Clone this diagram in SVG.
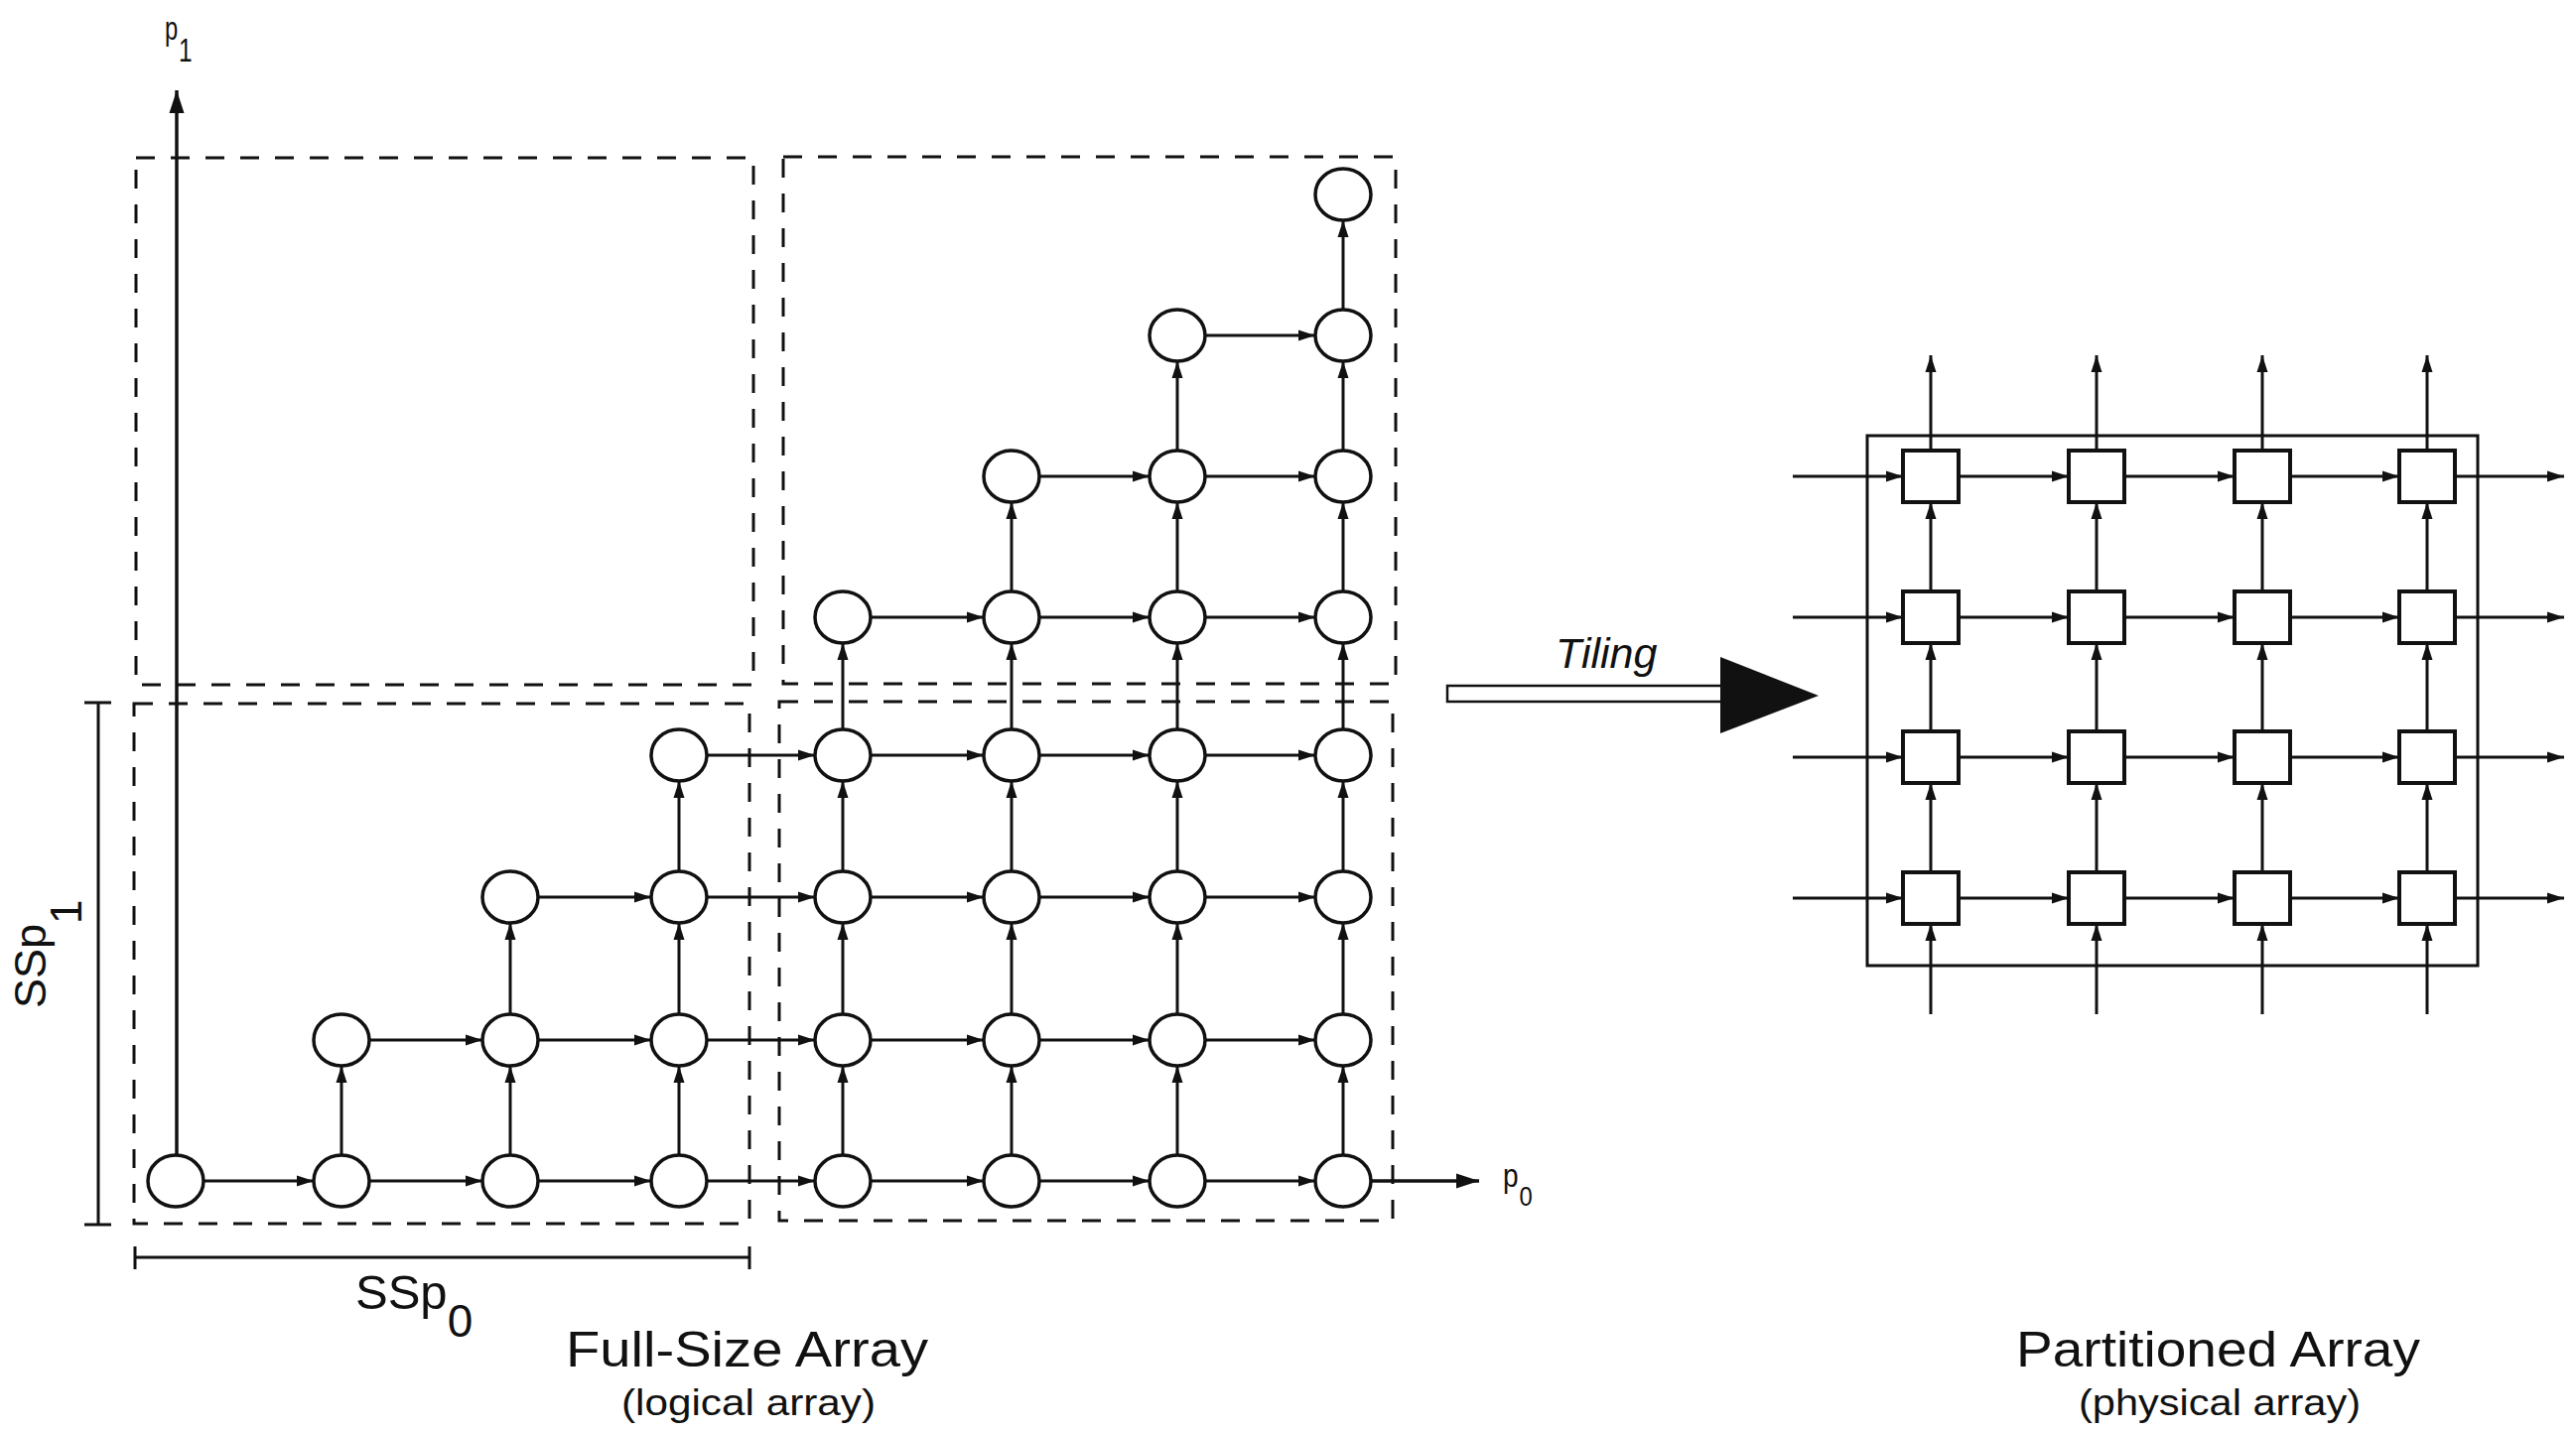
<svg xmlns="http://www.w3.org/2000/svg" width="2595" height="1444" viewBox="0 0 2595 1444">
<style>
.bg{fill:#fff}
.box{fill:none;stroke:#111;stroke-width:3;stroke-dasharray:19 16}
.pe{fill:#fff;stroke:#111;stroke-width:3.5}
.sq{fill:#fff;stroke:#111;stroke-width:4}
.e{stroke:#111;stroke-width:3;fill:none;marker-end:url(#ah)}
.ax{stroke:#111;stroke-width:3.5;fill:none;marker-end:url(#big)}
.br{stroke:#111;stroke-width:3;fill:none}
.t{font-family:"Liberation Sans",Arial,sans-serif;fill:#111}
</style>
<defs>
<marker id="ah" markerUnits="userSpaceOnUse" markerWidth="18" markerHeight="12" refX="17" refY="6" orient="auto"><path d="M0,0.5 L17,6 L0,11.5 z" fill="#111"/></marker>
<marker id="big" markerUnits="userSpaceOnUse" markerWidth="24" markerHeight="16" refX="23" refY="8" orient="auto"><path d="M0,0.5 L23,8 L0,15.5 z" fill="#111"/></marker>
</defs>
<rect class="bg" x="0" y="0" width="2595" height="1444"/>

<g id="tiles">
<rect class="box" x="137" y="159" width="622" height="531"/>
<rect class="box" x="789" y="158" width="617" height="531"/>
<rect class="box" x="135" y="709" width="620" height="524"/>
<rect class="box" x="785" y="707" width="618" height="523"/>
</g>

<g id="brackets">
<line class="br" x1="99" y1="708" x2="99" y2="1234"/>
<line class="br" x1="85" y1="708" x2="112" y2="708"/>
<line class="br" x1="85" y1="1234" x2="112" y2="1234"/>
<line class="br" x1="136" y1="1267" x2="755" y2="1267"/>
<line class="br" x1="136" y1="1256" x2="136" y2="1279"/>
<line class="br" x1="755" y1="1256" x2="755" y2="1279"/>
</g>

<g id="connectors">
<line class="ax" x1="178" y1="1164" x2="178" y2="91"/>
<line class="ax" x1="1381" y1="1190" x2="1490" y2="1190"/>
<line class="e" x1="205" y1="1190" x2="316" y2="1190"/>
<line class="e" x1="372" y1="1190" x2="486" y2="1190"/>
<line class="e" x1="542" y1="1190" x2="656" y2="1190"/>
<line class="e" x1="712" y1="1190" x2="821" y2="1190"/>
<line class="e" x1="877" y1="1190" x2="991" y2="1190"/>
<line class="e" x1="1047" y1="1190" x2="1158" y2="1190"/>
<line class="e" x1="1214" y1="1190" x2="1325" y2="1190"/>
<line class="e" x1="372" y1="1048" x2="486" y2="1048"/>
<line class="e" x1="542" y1="1048" x2="656" y2="1048"/>
<line class="e" x1="712" y1="1048" x2="821" y2="1048"/>
<line class="e" x1="877" y1="1048" x2="991" y2="1048"/>
<line class="e" x1="1047" y1="1048" x2="1158" y2="1048"/>
<line class="e" x1="1214" y1="1048" x2="1325" y2="1048"/>
<line class="e" x1="542" y1="904" x2="656" y2="904"/>
<line class="e" x1="712" y1="904" x2="821" y2="904"/>
<line class="e" x1="877" y1="904" x2="991" y2="904"/>
<line class="e" x1="1047" y1="904" x2="1158" y2="904"/>
<line class="e" x1="1214" y1="904" x2="1325" y2="904"/>
<line class="e" x1="712" y1="761" x2="821" y2="761"/>
<line class="e" x1="877" y1="761" x2="991" y2="761"/>
<line class="e" x1="1047" y1="761" x2="1158" y2="761"/>
<line class="e" x1="1214" y1="761" x2="1325" y2="761"/>
<line class="e" x1="877" y1="622" x2="991" y2="622"/>
<line class="e" x1="1047" y1="622" x2="1158" y2="622"/>
<line class="e" x1="1214" y1="622" x2="1325" y2="622"/>
<line class="e" x1="1047" y1="480" x2="1158" y2="480"/>
<line class="e" x1="1214" y1="480" x2="1325" y2="480"/>
<line class="e" x1="1214" y1="338" x2="1325" y2="338"/>
<line class="e" x1="344" y1="1164" x2="344" y2="1074"/>
<line class="e" x1="514" y1="1164" x2="514" y2="1074"/>
<line class="e" x1="514" y1="1022" x2="514" y2="930"/>
<line class="e" x1="684" y1="1164" x2="684" y2="1074"/>
<line class="e" x1="684" y1="1022" x2="684" y2="930"/>
<line class="e" x1="684" y1="878" x2="684" y2="787"/>
<line class="e" x1="849" y1="1164" x2="849" y2="1074"/>
<line class="e" x1="849" y1="1022" x2="849" y2="930"/>
<line class="e" x1="849" y1="878" x2="849" y2="787"/>
<line class="e" x1="849" y1="735" x2="849" y2="648"/>
<line class="e" x1="1019" y1="1164" x2="1019" y2="1074"/>
<line class="e" x1="1019" y1="1022" x2="1019" y2="930"/>
<line class="e" x1="1019" y1="878" x2="1019" y2="787"/>
<line class="e" x1="1019" y1="735" x2="1019" y2="648"/>
<line class="e" x1="1019" y1="596" x2="1019" y2="506"/>
<line class="e" x1="1186" y1="1164" x2="1186" y2="1074"/>
<line class="e" x1="1186" y1="1022" x2="1186" y2="930"/>
<line class="e" x1="1186" y1="878" x2="1186" y2="787"/>
<line class="e" x1="1186" y1="735" x2="1186" y2="648"/>
<line class="e" x1="1186" y1="596" x2="1186" y2="506"/>
<line class="e" x1="1186" y1="454" x2="1186" y2="364"/>
<line class="e" x1="1353" y1="1164" x2="1353" y2="1074"/>
<line class="e" x1="1353" y1="1022" x2="1353" y2="930"/>
<line class="e" x1="1353" y1="878" x2="1353" y2="787"/>
<line class="e" x1="1353" y1="735" x2="1353" y2="648"/>
<line class="e" x1="1353" y1="596" x2="1353" y2="506"/>
<line class="e" x1="1353" y1="454" x2="1353" y2="364"/>
<line class="e" x1="1353" y1="312" x2="1353" y2="222"/>

<line class="e" x1="1806" y1="480" x2="1917" y2="480"/>
<line class="e" x1="1973" y1="480" x2="2084" y2="480"/>
<line class="e" x1="2140" y1="480" x2="2251" y2="480"/>
<line class="e" x1="2307" y1="480" x2="2417" y2="480"/>
<line class="e" x1="2473" y1="480" x2="2583" y2="480"/>
<line class="e" x1="1806" y1="622" x2="1917" y2="622"/>
<line class="e" x1="1973" y1="622" x2="2084" y2="622"/>
<line class="e" x1="2140" y1="622" x2="2251" y2="622"/>
<line class="e" x1="2307" y1="622" x2="2417" y2="622"/>
<line class="e" x1="2473" y1="622" x2="2583" y2="622"/>
<line class="e" x1="1806" y1="763" x2="1917" y2="763"/>
<line class="e" x1="1973" y1="763" x2="2084" y2="763"/>
<line class="e" x1="2140" y1="763" x2="2251" y2="763"/>
<line class="e" x1="2307" y1="763" x2="2417" y2="763"/>
<line class="e" x1="2473" y1="763" x2="2583" y2="763"/>
<line class="e" x1="1806" y1="905" x2="1917" y2="905"/>
<line class="e" x1="1973" y1="905" x2="2084" y2="905"/>
<line class="e" x1="2140" y1="905" x2="2251" y2="905"/>
<line class="e" x1="2307" y1="905" x2="2417" y2="905"/>
<line class="e" x1="2473" y1="905" x2="2583" y2="905"/>

<line class="e" x1="1945" y1="1022" x2="1945" y2="931"/>
<line class="e" x1="1945" y1="879" x2="1945" y2="789"/>
<line class="e" x1="1945" y1="737" x2="1945" y2="648"/>
<line class="e" x1="1945" y1="596" x2="1945" y2="506"/>
<line class="e" x1="1945" y1="454" x2="1945" y2="358"/>
<line class="e" x1="2112" y1="1022" x2="2112" y2="931"/>
<line class="e" x1="2112" y1="879" x2="2112" y2="789"/>
<line class="e" x1="2112" y1="737" x2="2112" y2="648"/>
<line class="e" x1="2112" y1="596" x2="2112" y2="506"/>
<line class="e" x1="2112" y1="454" x2="2112" y2="358"/>
<line class="e" x1="2279" y1="1022" x2="2279" y2="931"/>
<line class="e" x1="2279" y1="879" x2="2279" y2="789"/>
<line class="e" x1="2279" y1="737" x2="2279" y2="648"/>
<line class="e" x1="2279" y1="596" x2="2279" y2="506"/>
<line class="e" x1="2279" y1="454" x2="2279" y2="358"/>
<line class="e" x1="2445" y1="1022" x2="2445" y2="931"/>
<line class="e" x1="2445" y1="879" x2="2445" y2="789"/>
<line class="e" x1="2445" y1="737" x2="2445" y2="648"/>
<line class="e" x1="2445" y1="596" x2="2445" y2="506"/>
<line class="e" x1="2445" y1="454" x2="2445" y2="358"/>
</g>

<g id="tiling-arrow">
<rect x="1458" y="691" width="277" height="16" fill="#fff" stroke="#111" stroke-width="2.5"/>
<polygon points="1733,662 1733,739 1832,701" fill="#111"/>
<text class="t" x="1567" y="673" font-size="43" font-style="italic">Tiling</text>
</g>

<g id="logical-nodes">
<ellipse id="n0_0" class="pe" cx="177" cy="1190" rx="28" ry="26"/>
<ellipse id="n1_0" class="pe" cx="344" cy="1190" rx="28" ry="26"/>
<ellipse id="n1_1" class="pe" cx="344" cy="1048" rx="28" ry="26"/>
<ellipse id="n2_0" class="pe" cx="514" cy="1190" rx="28" ry="26"/>
<ellipse id="n2_1" class="pe" cx="514" cy="1048" rx="28" ry="26"/>
<ellipse id="n2_2" class="pe" cx="514" cy="904" rx="28" ry="26"/>
<ellipse id="n3_0" class="pe" cx="684" cy="1190" rx="28" ry="26"/>
<ellipse id="n3_1" class="pe" cx="684" cy="1048" rx="28" ry="26"/>
<ellipse id="n3_2" class="pe" cx="684" cy="904" rx="28" ry="26"/>
<ellipse id="n3_3" class="pe" cx="684" cy="761" rx="28" ry="26"/>
<ellipse id="n4_0" class="pe" cx="849" cy="1190" rx="28" ry="26"/>
<ellipse id="n4_1" class="pe" cx="849" cy="1048" rx="28" ry="26"/>
<ellipse id="n4_2" class="pe" cx="849" cy="904" rx="28" ry="26"/>
<ellipse id="n4_3" class="pe" cx="849" cy="761" rx="28" ry="26"/>
<ellipse id="n4_4" class="pe" cx="849" cy="622" rx="28" ry="26"/>
<ellipse id="n5_0" class="pe" cx="1019" cy="1190" rx="28" ry="26"/>
<ellipse id="n5_1" class="pe" cx="1019" cy="1048" rx="28" ry="26"/>
<ellipse id="n5_2" class="pe" cx="1019" cy="904" rx="28" ry="26"/>
<ellipse id="n5_3" class="pe" cx="1019" cy="761" rx="28" ry="26"/>
<ellipse id="n5_4" class="pe" cx="1019" cy="622" rx="28" ry="26"/>
<ellipse id="n5_5" class="pe" cx="1019" cy="480" rx="28" ry="26"/>
<ellipse id="n6_0" class="pe" cx="1186" cy="1190" rx="28" ry="26"/>
<ellipse id="n6_1" class="pe" cx="1186" cy="1048" rx="28" ry="26"/>
<ellipse id="n6_2" class="pe" cx="1186" cy="904" rx="28" ry="26"/>
<ellipse id="n6_3" class="pe" cx="1186" cy="761" rx="28" ry="26"/>
<ellipse id="n6_4" class="pe" cx="1186" cy="622" rx="28" ry="26"/>
<ellipse id="n6_5" class="pe" cx="1186" cy="480" rx="28" ry="26"/>
<ellipse id="n6_6" class="pe" cx="1186" cy="338" rx="28" ry="26"/>
<ellipse id="n7_0" class="pe" cx="1353" cy="1190" rx="28" ry="26"/>
<ellipse id="n7_1" class="pe" cx="1353" cy="1048" rx="28" ry="26"/>
<ellipse id="n7_2" class="pe" cx="1353" cy="904" rx="28" ry="26"/>
<ellipse id="n7_3" class="pe" cx="1353" cy="761" rx="28" ry="26"/>
<ellipse id="n7_4" class="pe" cx="1353" cy="622" rx="28" ry="26"/>
<ellipse id="n7_5" class="pe" cx="1353" cy="480" rx="28" ry="26"/>
<ellipse id="n7_6" class="pe" cx="1353" cy="338" rx="28" ry="26"/>
<ellipse id="n7_7" class="pe" cx="1353" cy="196" rx="28" ry="26"/>
</g>

<g id="physical-array">
<rect x="1881" y="439" width="615" height="534" fill="none" stroke="#111" stroke-width="3"/>
<rect id="s0_0" class="sq" x="1917" y="454" width="56" height="52"/>
<rect id="s1_0" class="sq" x="2084" y="454" width="56" height="52"/>
<rect id="s2_0" class="sq" x="2251" y="454" width="56" height="52"/>
<rect id="s3_0" class="sq" x="2417" y="454" width="56" height="52"/>
<rect id="s0_1" class="sq" x="1917" y="596" width="56" height="52"/>
<rect id="s1_1" class="sq" x="2084" y="596" width="56" height="52"/>
<rect id="s2_1" class="sq" x="2251" y="596" width="56" height="52"/>
<rect id="s3_1" class="sq" x="2417" y="596" width="56" height="52"/>
<rect id="s0_2" class="sq" x="1917" y="737" width="56" height="52"/>
<rect id="s1_2" class="sq" x="2084" y="737" width="56" height="52"/>
<rect id="s2_2" class="sq" x="2251" y="737" width="56" height="52"/>
<rect id="s3_2" class="sq" x="2417" y="737" width="56" height="52"/>
<rect id="s0_3" class="sq" x="1917" y="879" width="56" height="52"/>
<rect id="s1_3" class="sq" x="2084" y="879" width="56" height="52"/>
<rect id="s2_3" class="sq" x="2251" y="879" width="56" height="52"/>
<rect id="s3_3" class="sq" x="2417" y="879" width="56" height="52"/>
</g>

<g id="labels">
<text class="t" transform="translate(166,40) scale(0.72,1)" font-size="33">p<tspan font-size="34" dx="1" dy="22">1</tspan></text>
<text class="t" transform="translate(1514,1196) scale(0.85,1)" font-size="33">p<tspan font-size="28" dx="1" dy="19">0</tspan></text>
<text class="t" x="358" y="1319" font-size="49">SSp<tspan font-size="46" dy="28">0</tspan></text>
<text class="t" transform="translate(46,1016) rotate(-90)" font-size="45">SSp<tspan font-size="44" dy="36">1</tspan></text>
<text class="t" x="570" y="1377" font-size="50" textLength="365" lengthAdjust="spacingAndGlyphs">Full-Size Array</text>
<text class="t" x="626" y="1426" font-size="37" textLength="256" lengthAdjust="spacingAndGlyphs">(logical array)</text>
<text class="t" x="2031" y="1377" font-size="50" textLength="407" lengthAdjust="spacingAndGlyphs">Partitioned Array</text>
<text class="t" x="2094" y="1426" font-size="37" textLength="284" lengthAdjust="spacingAndGlyphs">(physical array)</text>
</g>
</svg>
